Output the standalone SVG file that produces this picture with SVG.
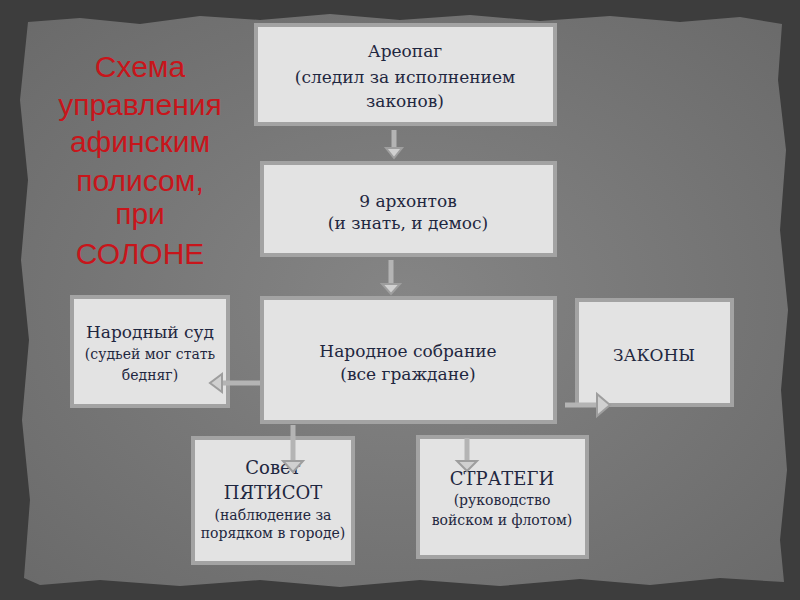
<svg xmlns="http://www.w3.org/2000/svg" width="800" height="600" viewBox="0 0 800 600">
<defs>
<radialGradient id="paper" cx="0.5" cy="0.5" r="0.7">
<stop offset="0" stop-color="#858585"/>
<stop offset="1" stop-color="#6a6a6a"/>
</radialGradient>
<style>
.box{fill:#e3e3e3;stroke:#a3a3a3;stroke-width:4}
.t{font-family:"DejaVu Serif","Liberation Serif",serif;fill:#1f2740;text-anchor:middle}
.title{font-family:"Liberation Sans",Arial,sans-serif;fill:#c8151b;font-size:30px;text-anchor:middle}
.shaft{stroke:#b4b4b4;stroke-width:5;fill:none}
.head{fill:#d0d0d0;stroke:#9e9e9e;stroke-width:2;stroke-linejoin:miter}
</style>
</defs>
<rect width="800" height="600" fill="#3d3d3d"/>
<polygon fill="url(#paper)" points="28,22 80,18 140,24 200,16 260,20 330,14 400,20 470,15 540,21 610,16 680,22 740,17 782,24 778,80 786,150 780,230 788,310 781,390 787,470 780,540 784,582 720,578 650,585 580,579 500,586 420,580 340,587 260,580 180,586 100,580 40,585 24,578 30,500 22,420 29,340 21,260 28,180 20,100"/>

<g id="title">
<text class="title" x="140" y="77">Схема</text>
<text class="title" x="140" y="115">управления</text>
<text class="title" x="140" y="152">афинским</text>
<text class="title" x="140" y="191">полисом,</text>
<text class="title" x="140" y="224">при</text>
<text class="title" x="140" y="264">СОЛОНЕ</text>
</g>

<g id="areopag">
<rect class="box" x="256" y="25" width="299" height="99"/>
<text class="t" x="405" y="57" font-size="17">Ареопаг</text>
<text class="t" x="405" y="83" font-size="17">(следил за исполнением</text>
<text class="t" x="405" y="107" font-size="17">законов)</text>
</g>

<g id="archons">
<rect class="box" x="262" y="163" width="293" height="92"/>
<text class="t" x="408" y="207" font-size="17">9 архонтов</text>
<text class="t" x="408" y="229" font-size="17">(и знать, и демос)</text>
</g>

<g id="assembly">
<rect class="box" x="262" y="298" width="293" height="124"/>
<text class="t" x="408" y="357" font-size="17">Народное собрание</text>
<text class="t" x="408" y="380" font-size="17">(все граждане)</text>
</g>

<g id="court">
<rect class="box" x="72" y="297" width="156" height="109"/>
<text class="t" x="150" y="338" font-size="17">Народный суд</text>
<text class="t" x="150" y="359" font-size="14">(судьей мог стать</text>
<text class="t" x="150" y="380" font-size="14">бедняг)</text>
</g>

<g id="laws">
<rect class="box" x="577" y="300" width="155" height="105"/>
<text class="t" x="654" y="361" font-size="17">ЗАКОНЫ</text>
</g>

<g id="council">
<rect class="box" x="193" y="438" width="160" height="125"/>
<text class="t" x="273" y="474" font-size="18">Совет</text>
<text class="t" x="273" y="499" font-size="18">ПЯТИСОТ</text>
<text class="t" x="273" y="520" font-size="14">(наблюдение за</text>
<text class="t" x="273" y="538" font-size="14">порядком в городе)</text>
</g>

<g id="strategoi">
<rect class="box" x="418" y="437" width="169" height="120"/>
<text class="t" x="502" y="485" font-size="18">СТРАТЕГИ</text>
<text class="t" x="502" y="505" font-size="14">(руководство</text>
<text class="t" x="502" y="525" font-size="14">войском и флотом)</text>
</g>

<g id="connectors">
<line class="shaft" x1="394" y1="130" x2="394" y2="150"/>
<polygon class="head" points="386,148 402,148 394,158"/>
<line class="shaft" x1="391" y1="260" x2="391" y2="285"/>
<polygon class="head" points="382,284 400,284 391,294"/>
<line class="shaft" x1="260" y1="383" x2="222" y2="383"/>
<polygon class="head" points="222,374 222,392 210,383"/>
<line class="shaft" x1="565" y1="405" x2="598" y2="405"/>
<polygon class="head" points="597,394 597,416 610,405"/>
<line class="shaft" x1="293" y1="425" x2="293" y2="462"/>
<polygon class="head" points="283,461 303,461 293,472"/>
<line class="shaft" x1="467" y1="438" x2="467" y2="462"/>
<polygon class="head" points="457,461 477,461 467,471"/>
</g>
</svg>
